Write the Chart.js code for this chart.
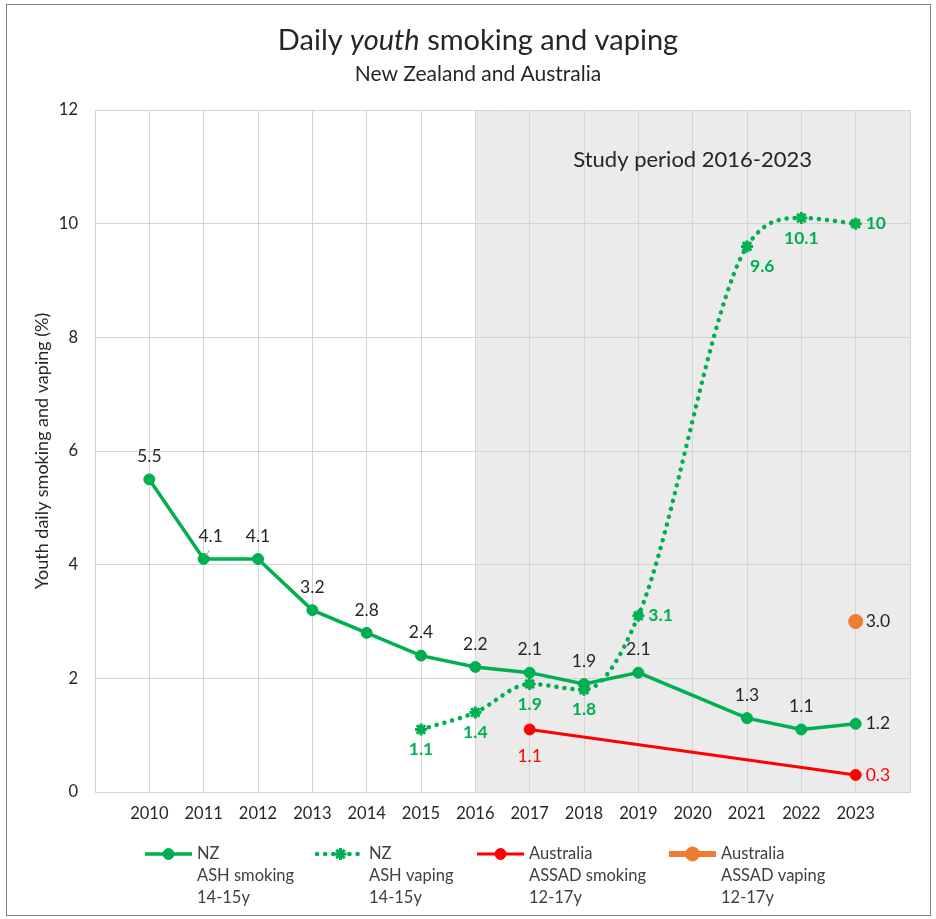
<!DOCTYPE html>
<html>
<head>
<meta charset="utf-8">
<script src="https://cdn.jsdelivr.net/npm/chart.js@4.4.1/dist/chart.umd.min.js"></script>
<style>
  html, body { margin: 0; padding: 0; background: #fff; }
  #wrap { width: 936px; height: 919px; }
</style>
</head>
<body>
<div id="wrap"><canvas id="chart" width="936" height="919"></canvas></div>
<script>
const years = [2010, 2011, 2012, 2013, 2014, 2015, 2016, 2017, 2018, 2019, 2020, 2021, 2022, 2023];
const nzSmoking = [5.5, 4.1, 4.1, 3.2, 2.8, 2.4, 2.2, 2.1, 1.9, 2.1, null, 1.3, 1.1, 1.2];
const nzVaping = [null, null, null, null, null, 1.1, 1.4, 1.9, 1.8, 3.1, null, 9.6, 10.1, 10];
const auSmoking = [null, null, null, null, null, null, null, 1.1, null, null, null, null, null, 0.3];
const auVaping = [null, null, null, null, null, null, null, null, null, null, null, null, null, 3.0];
const yTicks = [0, 2, 4, 6, 8, 10, 12];
const studyStart = 2016;
const studyLabel = 'Study period 2016-2023';

const legendText = [
  ['NZ', 'ASH smoking', '14-15y'],
  ['NZ', 'ASH vaping', '14-15y'],
  ['Australia', 'ASSAD smoking', '12-17y'],
  ['Australia', 'ASSAD vaping', '12-17y']
];

const FONT = 'Lato, "Open Sans", sans-serif';
const GREEN = '#00B050';
const RED = '#FF0000';
const ORANGE = '#ED7D31';
const INK = '#262626';

// years with values -> {x, y} points, gaps dropped so the line spans them
function toPoints(values) {
  return years
    .map((yr, i) => ({ x: yr, y: values[i] }))
    .filter(p => p.y !== null);
}

// shaded study window + its caption, behind everything else
const studyShade = {
  id: 'studyShade',
  beforeDraw(chart) {
    const { ctx, chartArea, scales } = chart;
    const left = scales.x.getPixelForValue(studyStart);
    ctx.save();
    ctx.fillStyle = '#ebebeb';
    ctx.fillRect(left, chartArea.top, chartArea.right - left, chartArea.bottom - chartArea.top);
    ctx.restore();
  },
  beforeDatasetsDraw(chart) {
    const { ctx, chartArea, scales } = chart;
    const left = scales.x.getPixelForValue(studyStart);
    ctx.save();
    ctx.font = `22px ${FONT}`;
    ctx.fillStyle = INK;
    ctx.textAlign = 'center';
    ctx.textBaseline = 'middle';
    ctx.fillText(studyLabel, (left + chartArea.right) / 2, 160);
    ctx.restore();
  }
};

// value labels next to each point
const pointLabels = {
  id: 'pointLabels',
  afterDatasetsDraw(chart) {
    const { ctx } = chart;
    chart.data.datasets.forEach((ds, di) => {
      const meta = chart.getDatasetMeta(di);
      const lbl = ds.valueLabel;
      if (!lbl) return;
      ctx.save();
      ctx.font = `${lbl.bold ? 'bold ' : ''}17.5px ${FONT}`;
      ctx.fillStyle = lbl.color;
      ctx.textBaseline = 'middle';
      meta.data.forEach((pt, i) => {
        const p = ds.data[i];
        const text = lbl.format(p.y);
        const pos = (lbl.pos && lbl.pos[p.x]) || lbl.defaultPos;
        let x = pt.x, y = pt.y;
        if (pos === 'above') {
          ctx.textAlign = 'center';
          y -= lbl.gap;
        } else if (pos === 'below') {
          ctx.textAlign = 'center';
          y += lbl.gap;
        } else if (pos === 'right') {
          ctx.textAlign = 'left';
          x += 10;
        } else if (pos === 'belowRight') {
          ctx.textAlign = 'left';
          x += 3;
          y += 20;
        }
        const shift = lbl.shift && lbl.shift[p.x];
        if (shift) {
          x += shift[0];
          y += shift[1];
          // short leader back to the point
          ctx.save();
          ctx.strokeStyle = '#a6a6a6';
          ctx.lineWidth = 1;
          ctx.beginPath();
          ctx.moveTo(pt.x + 2, pt.y - 3);
          ctx.lineTo(pt.x + 6, pt.y - 9);
          ctx.stroke();
          ctx.restore();
        }
        ctx.fillText(text, x, y);
      });
      ctx.restore();
    });
  }
};

// title, legend and outer frame
const frame = {
  id: 'frame',
  afterDraw(chart) {
    const { ctx } = chart;
    ctx.save();

    ctx.strokeStyle = '#7f7f7f';
    ctx.lineWidth = 1;
    ctx.strokeRect(6.5, 4.5, 924, 911);

    // title with italic "youth"
    const parts = [
      ['Daily ', `29px ${FONT}`],
      ['youth', `italic 29px ${FONT}`],
      [' smoking and vaping', `29px ${FONT}`]
    ];
    let total = 0;
    parts.forEach(([t, f]) => { ctx.font = f; total += ctx.measureText(t).width; });
    let tx = 478 - total / 2;
    ctx.fillStyle = INK;
    ctx.textBaseline = 'middle';
    ctx.textAlign = 'left';
    parts.forEach(([t, f]) => {
      ctx.font = f;
      ctx.fillText(t, tx, 41);
      tx += ctx.measureText(t).width;
    });
    ctx.font = `21px ${FONT}`;
    ctx.textAlign = 'center';
    ctx.fillText('New Zealand and Australia', 478, 74);

    // legend
    const starts = [145, 317, 477, 669];
    chart.data.datasets.forEach((ds, i) => {
      const x0 = starts[i];
      const y0 = 854;
      const len = 47;
      ctx.save();
      ctx.strokeStyle = ds.borderColor;
      ctx.fillStyle = ds.pointBackgroundColor;
      ctx.lineWidth = ds.borderWidth;
      ctx.lineCap = ds.borderCapStyle || 'butt';
      ctx.setLineDash(ds.borderDash || []);
      ctx.beginPath();
      ctx.moveTo(x0, y0);
      ctx.lineTo(x0 + len, y0);
      ctx.stroke();
      ctx.setLineDash([]);
      ctx.lineCap = 'butt';
      ctx.lineWidth = ds.pointBorderWidth;
      ctx.strokeStyle = ds.pointBorderColor;
      Chart.helpers.drawPoint(ctx, {
        pointStyle: ds.pointStyle,
        radius: ds.pointRadius,
        rotation: 0,
        borderWidth: ds.pointBorderWidth
      }, x0 + len / 2, y0);
      ctx.restore();

      ctx.font = `16.5px ${FONT}`;
      ctx.fillStyle = '#404040';
      ctx.textAlign = 'left';
      ctx.textBaseline = 'middle';
      legendText[i].forEach((line, k) => {
        ctx.fillText(line, x0 + 52, y0 + k * 22);
      });
    });

    ctx.restore();
  }
};

const oneDecimal = v => v.toFixed(1);

new Chart(document.getElementById('chart'), {
  type: 'line',
  data: {
    datasets: [
      {
        label: 'NZ ASH smoking 14-15y',
        data: toPoints(nzSmoking),
        borderColor: GREEN,
        borderWidth: 3.5,
        pointStyle: 'circle',
        pointRadius: 5.5,
        pointBackgroundColor: GREEN,
        pointBorderColor: GREEN,
        pointBorderWidth: 1,
        tension: 0,
        valueLabel: {
          color: INK, bold: false, gap: 23, defaultPos: 'above',
          pos: { 2023: 'right' }, shift: { 2011: [7, 0] }, format: oneDecimal
        }
      },
      {
        label: 'NZ ASH vaping 14-15y',
        data: toPoints(nzVaping),
        borderColor: GREEN,
        borderWidth: 4.5,
        borderDash: [0.1, 8],
        borderCapStyle: 'round',
        pointStyle: 'star',
        pointRadius: 6,
        pointBackgroundColor: GREEN,
        pointBorderColor: GREEN,
        pointBorderWidth: 3,
        cubicInterpolationMode: 'monotone',
        valueLabel: {
          color: GREEN, bold: true, gap: 20, defaultPos: 'below',
          pos: { 2019: 'right', 2021: 'belowRight', 2023: 'right' }, format: v => String(v)
        }
      },
      {
        label: 'Australia ASSAD smoking 12-17y',
        data: toPoints(auSmoking),
        borderColor: RED,
        borderWidth: 3,
        pointStyle: 'circle',
        pointRadius: 5.5,
        pointBackgroundColor: RED,
        pointBorderColor: RED,
        pointBorderWidth: 1,
        tension: 0,
        valueLabel: {
          color: RED, bold: false, gap: 27, defaultPos: 'below',
          pos: { 2023: 'right' }, format: oneDecimal
        }
      },
      {
        label: 'Australia ASSAD vaping 12-17y',
        data: toPoints(auVaping),
        borderColor: ORANGE,
        borderWidth: 6,
        showLine: false,
        pointStyle: 'circle',
        pointRadius: 7,
        pointBackgroundColor: ORANGE,
        pointBorderColor: ORANGE,
        pointBorderWidth: 1,
        valueLabel: {
          color: INK, bold: false, gap: 20, defaultPos: 'right', format: oneDecimal
        }
      }
    ]
  },
  options: {
    responsive: false,
    animation: false,
    layout: { padding: { top: 110, right: 26, bottom: 87, left: 0 } },
    plugins: {
      legend: { display: false },
      tooltip: { enabled: false }
    },
    scales: {
      x: {
        type: 'linear',
        min: years[0] - 1,
        max: years[years.length - 1] + 1,
        afterFit(scale) { scale.height = 40; },
        afterBuildTicks(scale) {
          scale.ticks = [years[0] - 1, ...years, years[years.length - 1] + 1].map(v => ({ value: v }));
        },
        ticks: {
          autoSkip: false,
          maxRotation: 0,
          padding: 12,
          color: INK,
          font: { family: FONT, size: 16.5 },
          callback: v => years.includes(v) ? String(v) : ''
        },
        grid: { color: '#d4d4d4', lineWidth: 1, drawTicks: false },
        border: { color: '#d4d4d4' }
      },
      y: {
        min: 0,
        max: 12,
        afterFit(scale) { scale.width = 95; },
        afterBuildTicks(scale) {
          scale.ticks = yTicks.map(v => ({ value: v }));
        },
        ticks: {
          padding: 17,
          color: INK,
          font: { family: FONT, size: 16.5 }
        },
        grid: { color: '#d4d4d4', lineWidth: 1, drawTicks: false },
        border: { display: false },
        title: {
          display: true,
          text: 'Youth daily smoking and vaping (%)',
          color: INK,
          font: { family: FONT, size: 18 },
          padding: { top: 31, bottom: 0 }
        }
      }
    }
  },
  plugins: [studyShade, pointLabels, frame]
});
</script>
</body>
</html>
